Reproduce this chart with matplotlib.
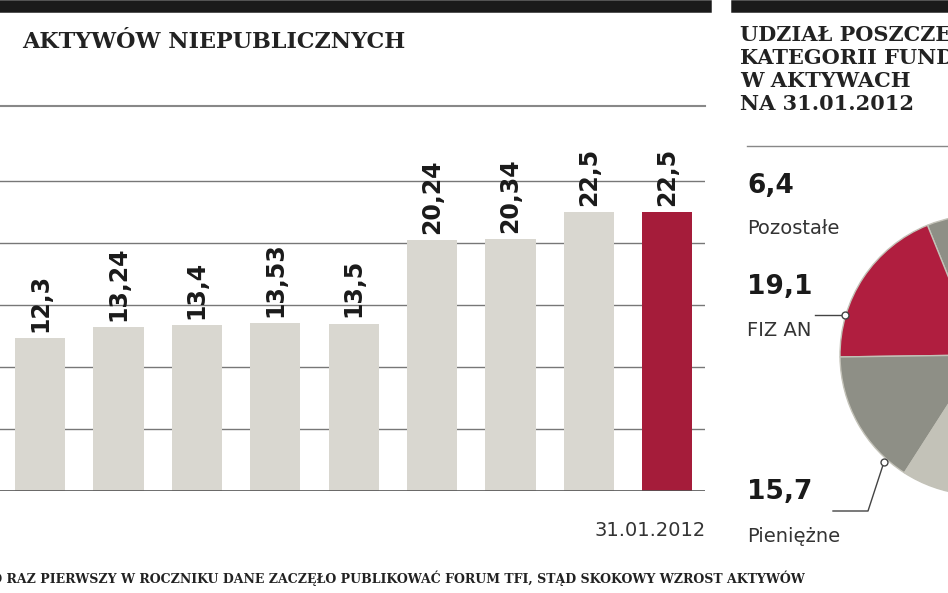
import matplotlib.pyplot as plt
import numpy as np

values = [12.3, 13.24, 13.4, 13.53, 13.5, 20.24, 20.34, 22.5, 22.5]
labels = ["12,3", "13,24", "13,4", "13,53", "13,5", "20,24", "20,34", "22,5", "22,5"]
pie_names = ["Pozostałe", "FIZ AN", "Pieniężne", ""]
pie_vals = [6.4, 19.1, 15.7, 58.8]

W, H = 948, 593
fig = plt.figure(figsize=(W / 100, H / 100), dpi=100)
fig.patch.set_facecolor("white")

def px(x, y):
    return x / W, 1 - y / H

# header bars and lines
fig.add_artist(plt.Line2D([0, 705 / W], [1 - 6 / H] * 2, color="#1a1a1a", lw=9))
fig.add_artist(plt.Line2D([737 / W, 1], [1 - 6 / H] * 2, color="#1a1a1a", lw=9))
fig.add_artist(plt.Line2D([0, 705 / W], [1 - 106 / H] * 2, color="#888888", lw=1.5))
fig.add_artist(plt.Line2D([747 / W, 1], [1 - 146 / H] * 2, color="#888888", lw=1))

fig.text(*px(405, 42), "AKTYWÓW NIEPUBLICZNYCH", ha="right", va="center",
         family="DejaVu Serif", weight="bold", fontsize=16, color="#222222")
for i, t in enumerate(["UDZIAŁ POSZCZEGÓLNYCH", "KATEGORII FUNDUSZY",
                       "W AKTYWACH", "NA 31.01.2012"]):
    fig.text(*px(740, 35 + i * 23), t, ha="left", va="center",
             family="DejaVu Serif", weight="bold", fontsize=15, color="#222222")

# bar chart
ax = fig.add_axes([0, 1 - 491 / H, 705 / W, (491 - 106) / H])
x = np.arange(len(values))
colors = ["#d9d7d0"] * (len(values) - 1) + ["#a51c3a"]
ax.bar(x, values, width=0.64, color=colors, zorder=2)
ax.set_xlim(-0.51, 8.48)
ax.set_ylim(0, 31.05)
for y in [5, 10, 15, 20, 25]:
    ax.axhline(y, color="#777777", lw=1, zorder=1)
ax.axhline(0, color="#555555", lw=1.2, zorder=3)
for xi, v, l in zip(x, values, labels):
    ax.text(xi, v + 0.5, l, rotation=90, ha="center", va="bottom",
            family="DejaVu Sans", weight="bold", fontsize=17, color="#1a1a1a")
ax.axis("off")
fig.text(*px(650, 530), "31.01.2012", ha="center", va="center",
         family="DejaVu Sans", fontsize=14, color="#333333")

# pie chart (mostly off-canvas)
r = 140
pax = fig.add_axes([(980 - r) / W, 1 - (355 + r) / H, 2 * r / W, 2 * r / H])
pax.pie(pie_vals, colors=["#8e8f86", "#b01e3f", "#8e8f86", "#c3c2b8"],
        startangle=89, counterclock=True,
        wedgeprops=dict(edgecolor="#c3c2b8", linewidth=1))
pax.set_aspect("auto")
pax.set_xlim(-1, 1)
pax.set_ylim(-1, 1)
pax.axis("off")

num_font = dict(family="DejaVu Sans", weight="bold", fontsize=19, color="#1a1a1a")
lab_font = dict(family="DejaVu Sans", fontsize=14, color="#333333")
fig.text(*px(747, 186), "6,4", **num_font, va="center")
fig.text(*px(747, 229), pie_names[0], **lab_font, va="center")
fig.text(*px(747, 287), "19,1", **num_font, va="center")
fig.text(*px(747, 330), pie_names[1], **lab_font, va="center")
fig.text(*px(747, 492), "15,7", **num_font, va="center")
fig.text(*px(747, 536), pie_names[2], **lab_font, va="center")
fig.add_artist(plt.Line2D([815 / W, 843 / W], [1 - 315 / H] * 2, color="#444444", lw=1))
fig.add_artist(plt.Line2D([833 / W, 868 / W, 884 / W], [1 - 511 / H, 1 - 511 / H, 1 - 462 / H],
                          color="#444444", lw=1))
fig.add_artist(plt.Line2D([845 / W], [1 - 315 / H], marker="o", ms=5, mfc="white", mec="#444444"))
fig.add_artist(plt.Line2D([884 / W], [1 - 462 / H], marker="o", ms=5, mfc="white", mec="#444444"))

fig.text(*px(805, 578), "W TYM ROKU PO RAZ PIERWSZY W ROCZNIKU DANE ZACZĘŁO PUBLIKOWAĆ FORUM TFI, STĄD SKOKOWY WZROST AKTYWÓW",
         ha="right", va="center", family="DejaVu Serif", weight="bold", fontsize=9, color="#222222")

fig.savefig("out.png", dpi=100)
